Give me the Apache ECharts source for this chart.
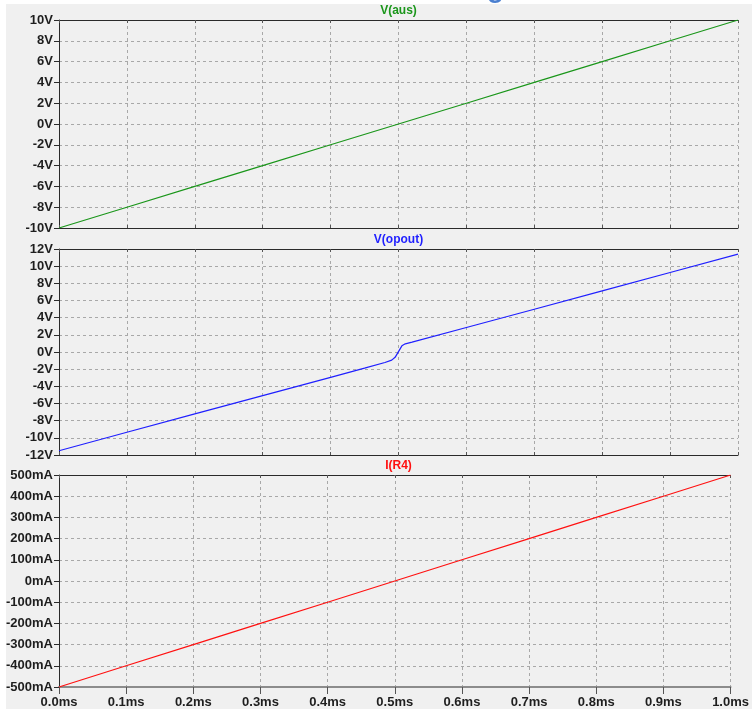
<!DOCTYPE html>
<html>
<head>
<meta charset="utf-8">
<script src="https://cdn.jsdelivr.net/npm/echarts@6/dist/echarts.min.js"></script>
<style>
  html, body { margin: 0; padding: 0; background: #ffffff; }
  #chart { width: 752px; height: 710px; }
</style>
</head>
<body>
<div id="chart"></div>
<script>
// Transient simulation traces, time in ms
const timeSteps = [0, 0.1, 0.2, 0.3, 0.4, 0.5, 0.6, 0.7, 0.8, 0.9, 1.0];
const vAus = [-10, -8, -6, -4, -2, 0, 2, 4, 6, 8, 10];

const opoutTime = [0, 0.1, 0.2, 0.3, 0.4, 0.45, 0.48, 0.49, 0.495, 0.5, 0.505, 0.51, 0.52, 0.6, 0.7, 0.8, 0.9, 1.0];
const vOpout = [-11.5, -9.35, -7.2, -5.08, -2.95, -1.88, -1.22, -0.95, -0.62, 0.05, 0.72, 0.95, 1.15, 2.85, 4.98, 7.12, 9.26, 11.4];

const iR4 = [-500, -400, -300, -200, -100, 0, 100, 200, 300, 400, 500]; // mA

const traceNames = ['V(aus)', 'V(opout)', 'I(R4)'];
const traceColors = ['#1a961a', '#1f1fff', '#ff1010'];

const pair = (xs, ys) => xs.map((x, i) => [x, ys[i]]);

const labelFont = {
  fontFamily: 'Liberation Sans',
  fontWeight: 'bold',
  fontSize: 13,
  color: '#1e1e1e'
};

const panels = [
  { top: 20, height: 208, min: -10, max: 10, interval: 2, unit: 'V' },
  { top: 249, height: 206, min: -12, max: 12, interval: 2, unit: 'V' },
  { top: 475, height: 212, min: -500, max: 500, interval: 100, unit: 'mA' }
];

const dashed = { show: true, lineStyle: { color: '#a8a8a8', type: [3, 3], width: 1 } };

const grids = panels.map(p => ({
  left: 59, right: 14, top: p.top, height: p.height,
  show: true, borderColor: '#3a3a3a', borderWidth: 1, backgroundColor: 'transparent'
}));

const xAxes = [];
panels.forEach((p, i) => {
  const last = i === panels.length - 1;
  xAxes.push({
    type: 'value', gridIndex: i, position: 'bottom', min: 0, max: 1, interval: 0.1,
    axisLine: { show: true, onZero: false, lineStyle: { color: last ? '#8c8c8c' : '#2a2a2a', width: last ? 2 : 1 } },
    axisTick: { show: true, inside: !last, length: last ? 7 : 3, lineStyle: { color: '#555' } },
    axisLabel: last ? Object.assign({ show: true, margin: 9, formatter: v => v.toFixed(1) + 'ms' }, labelFont) : { show: false },
    splitLine: dashed
  });
  xAxes.push({
    type: 'value', gridIndex: i, position: 'top', min: 0, max: 1, interval: 0.1,
    axisLine: { show: true, onZero: false, lineStyle: { color: '#2a2a2a', width: 1 } },
    axisTick: { show: true, inside: true, length: 3, lineStyle: { color: '#555' } },
    axisLabel: { show: false },
    splitLine: { show: false }
  });
});

const yAxes = panels.map((p, i) => ({
  type: 'value', gridIndex: i, min: p.min, max: p.max, interval: p.interval,
  axisLine: { show: true, onZero: false, lineStyle: { color: '#2a2a2a' } },
  axisTick: { show: true, length: 5, lineStyle: { color: '#2a2a2a' } },
  axisLabel: Object.assign({ margin: 6, formatter: v => v + p.unit }, labelFont),
  splitLine: dashed
}));

const lineSeries = (idx, data) => ({
  type: 'line', xAxisIndex: idx * 2, yAxisIndex: idx, data: data,
  showSymbol: false, symbol: 'none', animation: false,
  lineStyle: { color: traceColors[idx], width: 1.2 }
});

const chart = echarts.init(document.getElementById('chart'), null, { renderer: 'canvas' });
chart.setOption({
  animation: false,
  backgroundColor: '#ffffff',
  graphic: [
    { type: 'rect', z: 0, shape: { x: 6, y: 4, width: 746, height: 705 },
      style: { fill: '#f0f0f0' }, silent: true },
    { type: 'text', z: 0, left: 487, top: -25,
      style: { text: 'g', fill: '#4a7fd0', font: 'bold 28px Liberation Sans' } },
    ...panels.map((p, i) => ({
      type: 'text', z: 10, x: 398.5, y: p.top - 9,
      style: {
        text: traceNames[i], fill: traceColors[i], align: 'center', verticalAlign: 'middle',
        font: 'bold 12px Liberation Sans'
      }
    }))
  ],
  grid: grids,
  xAxis: xAxes,
  yAxis: yAxes,
  series: [
    lineSeries(0, pair(timeSteps, vAus)),
    lineSeries(1, pair(opoutTime, vOpout)),
    lineSeries(2, pair(timeSteps, iR4))
  ]
});
</script>
</body>
</html>
